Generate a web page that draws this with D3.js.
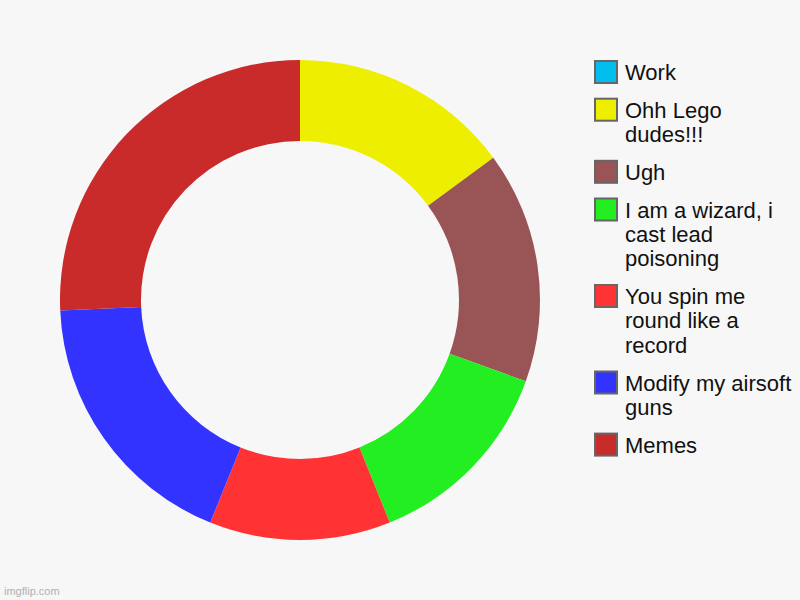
<!DOCTYPE html>
<html lang="en">
<head>
    <meta charset="UTF-8">
    <title>Donut chart</title>
    <script src="https://cdnjs.cloudflare.com/ajax/libs/d3/7.8.5/d3.min.js"></script>
    <style>
        body { margin: 0; background: #f7f7f7; }
        svg { display: block; }
        .legend text {
            font-family: "Liberation Sans", Arial, sans-serif;
            font-size: 22px;
            fill: #111;
        }
    </style>
</head>
<body>
<script type="text/javascript">
    const width = 800;
    const height = 600;

    const categories = ["Work", "Ohh Lego dudes!!!", "Ugh", "I am a wizard, i cast lead poisoning",
                        "You spin me round like a record", "Modify my airsoft guns", "Memes"];
    const values = [0, 14.9, 15.6, 13.4, 12.2, 18.2, 25.7];
    const colors = ["#00bfef", "#eeee00", "#995555", "#22ee22", "#ff3333", "#3333ff", "#c92a2a"];

    const cx = 300, cy = 300;
    const outerR = 240, innerR = 159;

    const svg = d3.select('body')
                    .append('svg')
                    .attr('width', width)
                    .attr('height', height);

    svg.append('rect')
        .attr('width', width)
        .attr('height', height)
        .attr('fill', '#f7f7f7');

    const color = d3.scaleOrdinal().domain(categories).range(colors);

    const pie = d3.pie()
                    .sort(null)
                    .value(function(d, i) { return values[i]; });
    const arc = d3.arc()
                    .innerRadius(innerR)
                    .outerRadius(outerR);

    svg.append('g')
        .attr('transform', 'translate(' + cx + ',' + cy + ')')
        .selectAll('path')
        .data(pie(categories))
        .enter()
        .append('path')
        .attr('d', arc)
        .attr('fill', function(d) { return color(d.data); });

    // legend, wrapped labels
    const legend = svg.append('g').attr('class', 'legend');
    const maxW = 170, lineH = 24.4, gap = 13.3;
    let y = 60;
    categories.forEach(function(c) {
        const item = legend.append('g').attr('transform', 'translate(0,' + y + ')');
        item.append('rect')
            .attr('x', 595).attr('y', 1)
            .attr('width', 22).attr('height', 22)
            .attr('fill', color(c))
            .attr('stroke', '#666')
            .attr('stroke-width', 2);
        const text = item.append('text').attr('x', 625).attr('y', 20);
        const words = c.split(' ');
        let line = [], n = 0;
        let tspan = text.append('tspan').attr('x', 625).attr('y', 20);
        words.forEach(function(w) {
            line.push(w);
            tspan.text(line.join(' '));
            if (tspan.node().getComputedTextLength() > maxW && line.length > 1) {
                line.pop();
                tspan.text(line.join(' '));
                line = [w];
                n++;
                tspan = text.append('tspan').attr('x', 625).attr('y', 20 + n * lineH).text(w);
            }
        });
        y += (n + 1) * lineH + gap;
    });

    svg.append('text')
        .attr('x', 4)
        .attr('y', 595)
        .attr('font-family', '"Liberation Sans", Arial, sans-serif')
        .attr('font-size', '11px')
        .attr('fill', '#b0b0b0')
        .text('imgflip.com');
</script>
</body>
</html>
